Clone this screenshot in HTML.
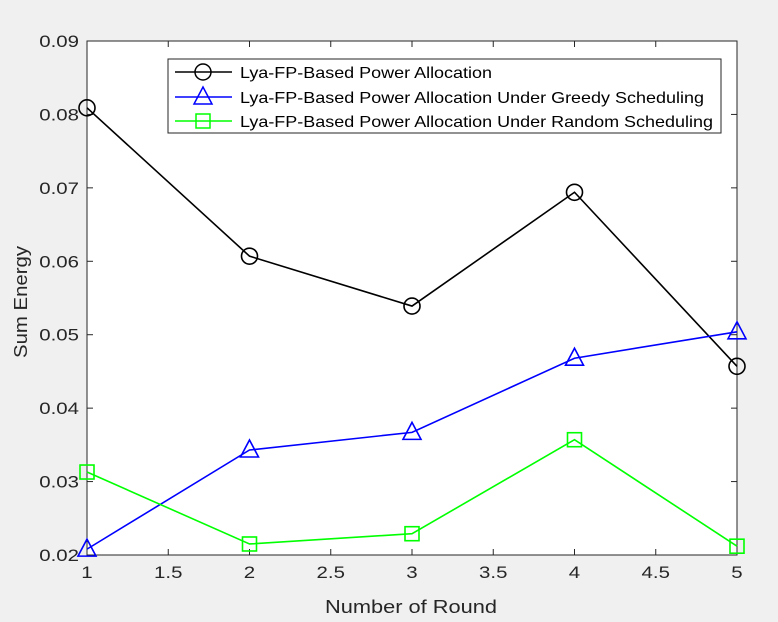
<!DOCTYPE html>
<html><head><meta charset="utf-8"><style>
body{margin:0;background:#f0f0f0;}
svg{display:block;font-family:"Liberation Sans",Arial,sans-serif;}
</style></head><body>
<svg id="chart" width="778" height="622" viewBox="0 0 778 622" xmlns="http://www.w3.org/2000/svg">
<rect x="0" y="0" width="778" height="622" fill="#f0f0f0"/>
<rect x="87" y="41" width="650" height="514" fill="#fff" stroke="#262626" stroke-width="1"/>
<g id="axes"></g>
<g id="series"></g>
<text class="w" data-w="172" x="411" y="613" text-anchor="middle" font-size="18" fill="#262626">Number of Round</text>
<text class="w" data-w="112" transform="translate(27,302) rotate(-90)" text-anchor="middle" font-size="18" fill="#262626">Sum Energy</text>
<g>
<rect x="168" y="59" width="553" height="74" fill="#fff" stroke="#262626" stroke-width="1"/>
<line x1="175" y1="72" x2="232" y2="72" stroke="#000" stroke-width="1.5"/>
<circle cx="203" cy="72" r="8" fill="none" stroke="#000" stroke-width="1.5"/>
<text class="w" data-w="252" x="240" y="78" font-size="16" fill="#000">Lya-FP-Based Power Allocation</text>
<line x1="175" y1="97" x2="232" y2="97" stroke="#0000ff" stroke-width="1.5"/>
<polygon points="203,87 212,104 194,104" fill="none" stroke="#0000ff" stroke-width="1.5"/>
<text class="w" data-w="464" x="240" y="103" font-size="16" fill="#000">Lya-FP-Based Power Allocation Under Greedy Scheduling</text>
<line x1="175" y1="121" x2="232" y2="121" stroke="#00ff00" stroke-width="1.5"/>
<rect x="196" y="114" width="14" height="14" fill="none" stroke="#00ff00" stroke-width="1.5"/>
<text class="w" data-w="473" x="240" y="127" font-size="16" fill="#000">Lya-FP-Based Power Allocation Under Random Scheduling</text>
</g>
</svg>
<script>
const rounds=[1,2,3,4,5];
const lyaFP=[0.0809,0.0607,0.0539,0.0694,0.0457];
const greedy=[0.0208,0.0343,0.0367,0.0468,0.0504];
const random=[0.0313,0.0215,0.0229,0.0357,0.0212];
const xTicks=[1,1.5,2,2.5,3,3.5,4,4.5,5];
const yTicks=[0.02,0.03,0.04,0.05,0.06,0.07,0.08,0.09];
const NS="http://www.w3.org/2000/svg";
const xS=v=>87+(v-1)/4*650;
const yS=v=>555-(v-0.02)/0.07*514;
function mk(tag,attrs,parent){const e=document.createElementNS(NS,tag);for(const k in attrs)e.setAttribute(k,attrs[k]);parent.appendChild(e);return e;}
const axes=document.getElementById('axes');
xTicks.forEach(t=>{
  mk('line',{x1:xS(t),x2:xS(t),y1:555,y2:549,stroke:'#262626'},axes);
  mk('line',{x1:xS(t),x2:xS(t),y1:41,y2:47,stroke:'#262626'},axes);
  const tx=mk('text',{x:xS(t),y:578,'text-anchor':'middle','font-size':17,fill:'#262626'},axes);
  tx.textContent=String(t);
  tx.setAttribute('class','s');
  
  
});
yTicks.forEach(t=>{
  mk('line',{x1:87,x2:93,y1:yS(t),y2:yS(t),stroke:'#262626'},axes);
  mk('line',{x1:737,x2:731,y1:yS(t),y2:yS(t),stroke:'#262626'},axes);
  const tx=mk('text',{x:79,y:yS(t)+6,'text-anchor':'end','font-size':17,fill:'#262626'},axes);
  tx.textContent=t.toFixed(2);
  tx.setAttribute('class','s');
  
  
});
const ser=document.getElementById('series');
function draw(vals,color,marker,name){
  const g=mk('g',{},ser);
  
  
  const pts=vals.map((v,i)=>xS(rounds[i])+','+yS(v)).join(' ');
  mk('polyline',{points:pts,fill:'none',stroke:color,'stroke-width':1.6},g);
  vals.forEach((v,i)=>{
    const x=xS(rounds[i]),y=yS(v);let m;
    if(marker==='circle')m=mk('circle',{cx:x,cy:y,r:8,fill:'none',stroke:color,'stroke-width':1.6},g);
    else if(marker==='tri')m=mk('polygon',{points:`${x},${y-10} ${x+9},${y+7} ${x-9},${y+7}`,fill:'none',stroke:color,'stroke-width':1.6},g);
    else m=mk('rect',{x:x-7,y:y-7,width:14,height:14,fill:'none',stroke:color,'stroke-width':1.6},g);
    
    
  });
}
draw(lyaFP,'#000','circle','series-lya-fp');
draw(greedy,'#0000ff','tri','series-greedy');
draw(random,'#00ff00','sq','series-random');
document.querySelectorAll('text.w').forEach(t=>{t.setAttribute('textLength',t.getAttribute('data-w'));t.setAttribute('lengthAdjust','spacingAndGlyphs');});
document.querySelectorAll('text.s').forEach(t=>{const L=t.getComputedTextLength();t.setAttribute('textLength',(L*1.2).toFixed(1));t.setAttribute('lengthAdjust','spacingAndGlyphs');});
</script>
</body></html>
